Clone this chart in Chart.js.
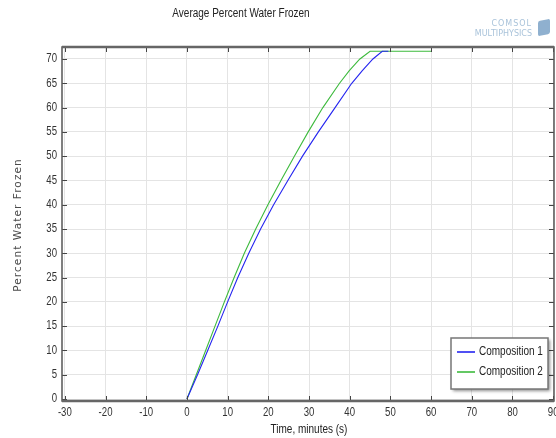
<!DOCTYPE html>
<html>
<head>
<meta charset="utf-8">
<script src="https://cdn.jsdelivr.net/npm/chart.js@4.4.1/dist/chart.umd.min.js"></script>
<style>
    body { margin: 0; background: #fff; }
    #wrap { position: relative; width: 556px; height: 438px; overflow: hidden; }
    #chart { position: absolute; left: 0; top: 0; }
    #logo { position: absolute; left: 470px; top: 19px; width: 62px; font: 8px "DejaVu Sans", sans-serif; color: #a9c3da; text-align: right; line-height: 10px; }
    #logo b { font-weight: normal; letter-spacing: 1px; }
    #cube { position: absolute; left: 538px; top: 20px; width: 12px; height: 15px; background: #8fb0cf; border-radius: 2px; transform: skewY(-12deg); }
</style>
</head>
<body>
<div id="wrap">
    <canvas id="chart" width="556" height="438"></canvas>
    <div id="logo"><b>COMSOL</b><br>MULTIPHYSICS</div>
    <div id="cube"></div>
</div>
<script>
// data
var time_c1 = [0, 2.6, 5.1, 7.6, 10.0, 12.5, 15.2, 18.1, 21.3, 24.8, 28.4, 32.3, 36.4, 40.5, 43.1, 45.7, 48.0, 49.5];
var frozen_c1 = [0, 5, 10, 15, 20, 25, 30, 35, 40, 45, 50, 55, 60, 65, 67.6, 70, 71.6, 71.6];

var time_c2 = [0, 2.3, 4.6, 6.9, 9.2, 11.6, 14.1, 16.9, 19.9, 23.1, 26.4, 29.8, 33.4, 37.5, 39.9, 42.5, 45.0, 60];
var frozen_c2 = [0, 5, 10, 15, 20, 25, 30, 35, 40, 45, 50, 55, 60, 65, 67.6, 70, 71.6, 71.6];

var labels = ['Composition 1', 'Composition 2'];
var colors = ['#2424f0', '#3dba3d'];

var chartTitle = 'Average Percent Water Frozen';
var xTitle = 'Time, minutes (s)';
var yTitle = 'Percent Water Frozen';

var FONT = '"Liberation Sans", Arial, sans-serif';
var NARROW = 0.8;

function toPoints(_t, _v) {
    let pts = [];
    for (let i = 0; i < _t.length; i++) {
        pts.push({x: _t[i], y: _v[i]});
    }
    return pts;
}

// condensed text, the original uses a narrow face
function narrowText(ctx, txt, x, y) {
    let w = ctx.measureText(txt).width;
    ctx.fillText(txt, x, y, w * NARROW);
}

// ticks pointing inward, frame, tick labels, titles
var framePlugin = {
    id: 'frame',
    afterDatasetsDraw(chart) {
        let ctx = chart.ctx;
        let a = chart.chartArea;
        let xs = chart.scales.x, ys = chart.scales.y;
        ctx.save();
        ctx.strokeStyle = '#444';
        ctx.lineWidth = 1;
        ctx.beginPath();
        xs.ticks.forEach((t) => {
            let px = Math.round(xs.getPixelForValue(t.value)) + 0.5;
            ctx.moveTo(px, a.bottom); ctx.lineTo(px, a.bottom - 5);
            ctx.moveTo(px, a.top); ctx.lineTo(px, a.top + 5);
        });
        ys.ticks.forEach((t) => {
            let py = Math.round(ys.getPixelForValue(t.value)) + 0.5;
            ctx.moveTo(a.left, py); ctx.lineTo(a.left + 5, py);
            ctx.moveTo(a.right, py); ctx.lineTo(a.right - 5, py);
        });
        ctx.stroke();

        ctx.strokeStyle = '#555';
        ctx.lineWidth = 1.5;
        ctx.strokeRect(a.left, a.top, a.right - a.left, a.bottom - a.top);
        ctx.strokeStyle = '#666';
        ctx.lineWidth = 2.5;
        ctx.beginPath();
        ctx.moveTo(a.left, a.top); ctx.lineTo(a.right, a.top);
        ctx.moveTo(a.left, a.bottom); ctx.lineTo(a.right, a.bottom);
        ctx.stroke();

        // tick labels
        ctx.fillStyle = '#333';
        ctx.font = '12px ' + FONT;
        ctx.textBaseline = 'middle';
        ctx.textAlign = 'center';
        xs.ticks.forEach((t) => {
            narrowText(ctx, String(t.value), xs.getPixelForValue(t.value), a.bottom + 12);
        });
        ctx.textAlign = 'right';
        ys.ticks.forEach((t) => {
            narrowText(ctx, String(t.value), a.left - 5, ys.getPixelForValue(t.value));
        });

        // titles
        ctx.fillStyle = '#222';
        ctx.textAlign = 'center';
        ctx.font = '12.5px ' + FONT;
        narrowText(ctx, xTitle, (a.left + a.right) / 2 + 1, a.bottom + 29);
        narrowText(ctx, chartTitle, 241, 14);

        ctx.save();
        ctx.translate(18, 225);
        ctx.rotate(-Math.PI / 2);
        ctx.font = '10.5px "DejaVu Sans", sans-serif';
        ctx.letterSpacing = '1.1px';
        ctx.fillStyle = '#4a4a4a';
        ctx.fillText(yTitle, 0, 0);
        ctx.restore();

        ctx.restore();
    }
};

// boxed legend in the lower right corner of the plot
var legendPlugin = {
    id: 'boxLegend',
    afterDraw(chart) {
        let ctx = chart.ctx;
        let a = chart.chartArea;
        let w = 97, h = 51;
        let x0 = a.right - 6 - w, y0 = a.bottom - 12 - h;
        ctx.save();
        ctx.shadowColor = 'rgba(0,0,0,0.45)';
        ctx.shadowBlur = 3;
        ctx.shadowOffsetX = 2;
        ctx.shadowOffsetY = 2;
        ctx.fillStyle = '#fff';
        ctx.fillRect(x0, y0, w, h);
        ctx.shadowColor = 'transparent';
        ctx.strokeStyle = '#777';
        ctx.lineWidth = 1.5;
        ctx.strokeRect(x0, y0, w, h);
        ctx.font = '12.5px ' + FONT;
        ctx.textBaseline = 'middle';
        ctx.textAlign = 'left';
        chart.data.datasets.forEach((ds, i) => {
            let ly = y0 + 14 + i * 20;
            ctx.strokeStyle = ds.borderColor;
            ctx.lineWidth = 1.6;
            ctx.beginPath();
            ctx.moveTo(x0 + 6, ly); ctx.lineTo(x0 + 24, ly);
            ctx.stroke();
            ctx.fillStyle = '#222';
            narrowText(ctx, ds.label, x0 + 28, ly);
        });
        ctx.restore();
    }
};

new Chart(document.getElementById('chart').getContext('2d'), {
    type: 'line',
    data: {
        datasets: [
            {
                label: labels[0],
                data: toPoints(time_c1, frozen_c1),
                borderColor: colors[0],
                borderWidth: 1.1,
                pointRadius: 0,
                tension: 0,
                fill: false,
            },
            {
                label: labels[1],
                data: toPoints(time_c2, frozen_c2),
                borderColor: colors[1],
                borderWidth: 1.1,
                pointRadius: 0,
                tension: 0,
                fill: false,
            }
        ],
    },
    options: {
        responsive: false,
        animation: false,
        devicePixelRatio: 1,
        layout: { padding: { top: 47, right: 2, left: 0, bottom: 0 } },
        plugins: {
            legend: { display: false },
            tooltip: { enabled: false },
        },
        scales: {
            x: {
                type: 'linear',
                min: -30.7,
                max: 90.2,
                ticks: { stepSize: 10, includeBounds: false, display: false },
                grid: { color: '#e4e4e4', drawTicks: false },
                border: { display: false },
                afterFit: (s) => { s.height = 37; s.paddingLeft = 0; s.paddingRight = 0; },
            },
            y: {
                min: -0.41,
                max: 72.47,
                ticks: { stepSize: 5, includeBounds: false, display: false },
                grid: { color: '#e4e4e4', drawTicks: false },
                border: { display: false },
                afterFit: (s) => { s.width = 62; s.paddingTop = 0; s.paddingBottom = 0; },
            }
        }
    },
    plugins: [framePlugin, legendPlugin]
});
</script>
</body>
</html>
